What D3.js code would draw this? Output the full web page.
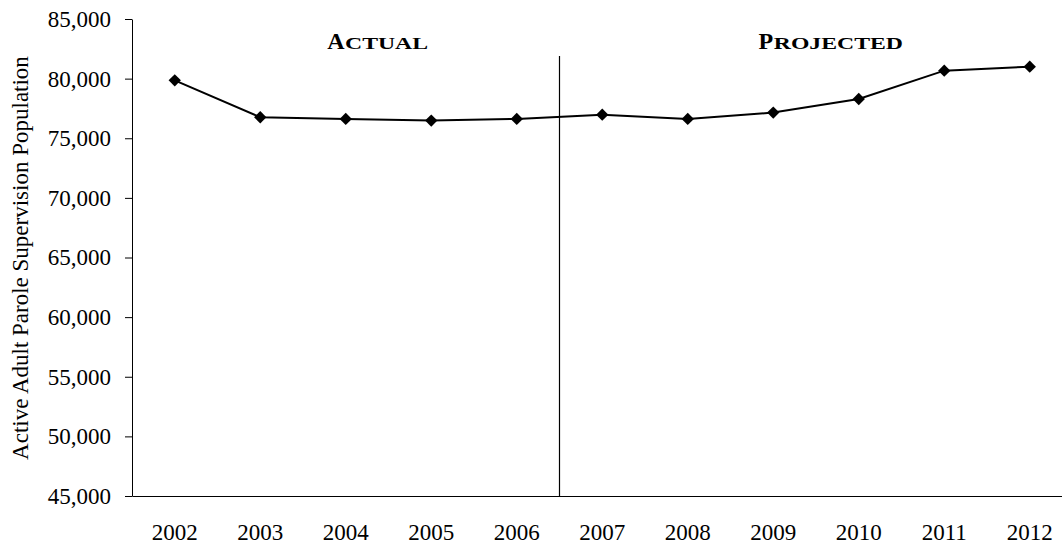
<!DOCTYPE html>
<html>
<head>
<meta charset="utf-8">
<script src="https://cdn.jsdelivr.net/npm/d3@7"></script>
<style>
  html, body { margin: 0; padding: 0; background: #fff; }
  svg { display: block; }
  text { font-family: "Liberation Serif", "Times New Roman", serif; fill: #000; }
</style>
</head>
<body>
<svg id="chart" width="1062" height="545"></svg>
<script>
const years = ['2002', '2003', '2004', '2005', '2006', '2007', '2008', '2009', '2010', '2011', '2012'];
const population = [79860, 76760, 76620, 76480, 76620, 76980, 76620, 77150, 78290, 80670, 81000];
const yTicks = [45000, 50000, 55000, 60000, 65000, 70000, 75000, 80000, 85000];
const splitAfter = '2006';

const m = { left: 132, top: 19, bottom: 496, right: 1072.5 };
const svg = d3.select('#chart');
const fmt = d3.format(',');

const x = d3.scaleBand().domain(years).range([m.left, m.right]).padding(0);
const y = d3.scaleLinear().domain([45000, 85000]).range([m.bottom, m.top]);
const cx = d => x(d) + x.bandwidth() / 2;

// y axis
const ya = svg.append('g').attr('transform', `translate(${m.left},0)`)
  .call(d3.axisLeft(y).tickValues(yTicks).tickFormat(fmt).tickSize(7).tickPadding(14).tickSizeOuter(0));
ya.select('.domain').attr('stroke', '#000');
ya.selectAll('.tick line').attr('stroke', '#000');
ya.selectAll('text').attr('font-size', 23).attr('font-family', '"Liberation Serif", serif').attr('fill', '#000');

// x axis
const xa = svg.append('g').attr('transform', `translate(0,${m.bottom})`)
  .call(d3.axisBottom(x).tickSize(0).tickPadding(28).tickSizeOuter(0));
xa.select('.domain').attr('stroke', '#000');
xa.selectAll('text').attr('font-size', 23).attr('font-family', '"Liberation Serif", serif').attr('fill', '#000');

// divider between actual and projected
const divX = x(splitAfter) + x.bandwidth();
svg.append('line').attr('x1', divX).attr('x2', divX).attr('y1', 56).attr('y2', m.bottom + 1)
  .attr('stroke', '#000').attr('stroke-width', 1.2);

// section labels: big initial + wide small caps
function smallCaps(first, rest, xc) {
  const g = svg.append('g');
  const a = g.append('text').attr('y', 49).attr('font-weight', 700).attr('font-size', 24).text(first);
  const b = g.append('text').attr('y', 0).attr('font-weight', 700).attr('font-size', 16.6).text(rest);
  const wa = a.node().getComputedTextLength();
  const sx = 1.43;
  const wb = b.node().getComputedTextLength() * sx;
  const x0 = xc - (wa + wb) / 2;
  a.attr('x', x0);
  b.attr('transform', `translate(${x0 + wa + 0.5},49) scale(${sx},1)`);
}
smallCaps('A', 'CTUAL', x('2004') + x.bandwidth() * 0.87);
smallCaps('P', 'ROJECTED', x('2009') + x.bandwidth() * 1.17);

// series line
svg.append('path').datum(years)
  .attr('fill', 'none').attr('stroke', '#000').attr('stroke-width', 2)
  .attr('d', d3.line().x(d => cx(d)).y((d, i) => y(population[i])));

// diamond markers
svg.selectAll('path.mark').data(years).join('path').attr('class', 'mark')
  .attr('d', d3.symbol().type(d3.symbolSquare).size(76))
  .attr('transform', (d, i) => `translate(${cx(d)},${y(population[i])}) rotate(45)`)
  .attr('fill', '#000');

// y title
svg.append('text').attr('transform', `translate(28,258) rotate(-90)`)
  .attr('text-anchor', 'middle').attr('font-size', 23)
  .text('Active Adult Parole Supervision Population');
</script>
</body>
</html>
